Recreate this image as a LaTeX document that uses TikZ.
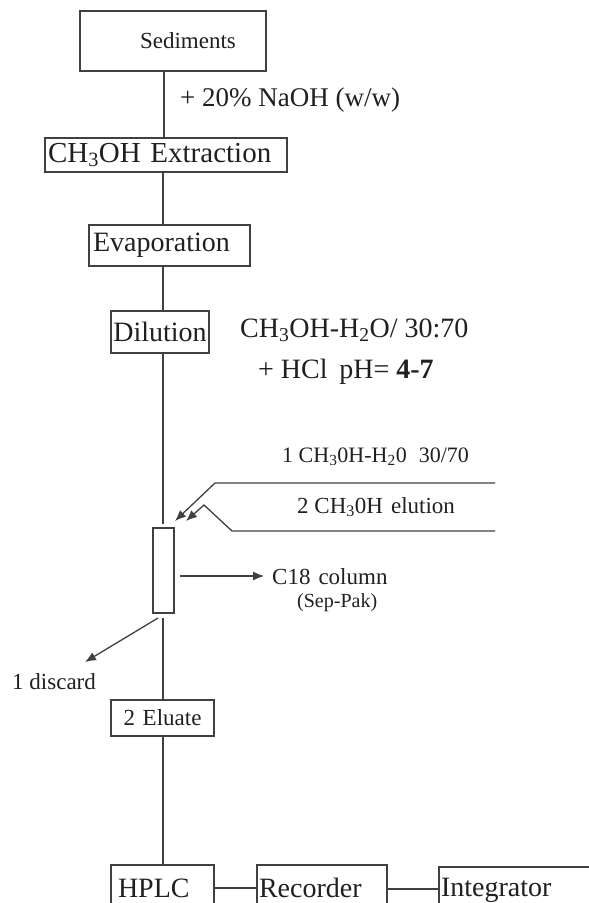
\documentclass[tikz,border=0pt]{standalone}
\usepackage{fontspec}
\setmainfont{Liberation Serif}
\usetikzlibrary{arrows.meta}
\newcommand{\fs}[1]{\fontsize{#1}{#1}\selectfont}
\definecolor{lc}{HTML}{404040}
\definecolor{tc}{HTML}{202020}
\begin{document}
\begin{tikzpicture}[x=1pt,y=-1pt,
  box/.style={draw=lc, line width=1.3pt, inner ysep=0pt, align=left, text=tc},
  txt/.style={inner sep=0pt, anchor=west, text=tc},
  ln/.style={draw=lc, line width=1.3pt},
  arr/.style={ln, -{Latex[length=11pt,width=9pt]}}]
\useasboundingbox (0,0) rectangle (589,903);
\clip (0,0) rectangle (589,903);
\fill[white] (0,0) rectangle (589,903);
\coordinate (ax) at (163,0);
\coordinate (ax2) at (164,0);
% boxes
\node[box, align=center, text width=180pt, inner xsep=3pt, minimum height=60pt, font=\fs{23}] (sed) at (173,41) {\hspace*{30pt}Sediments};
\node[box, text width=236pt, inner xsep=3pt, minimum height=34pt, font=\fs{29}] (ext) at (166,155) {CH\textsubscript{3}OH Extraction};
\node[box, text width=153pt, inner xsep=4pt, minimum height=41pt, font=\fs{28}] (evap) at (169.5,245.5) {Evaporation};
\node[box, align=center, text width=94pt, inner xsep=2pt, minimum height=42pt, font=\fs{28}] (dil) at (160,332) {Dilution};
\node[draw=lc, line width=1.3pt, minimum width=21pt, minimum height=85pt, inner sep=0pt] (col) at (163.5,570.5) {};
\node[box, align=center, text width=97pt, inner xsep=3pt, minimum height=36pt, font=\fs{23}] (elu) at (162.5,718) {2 Eluate};
\node[box, text width=89pt, inner xsep=7pt, minimum height=46pt, font=\fs{28}] (hplc) at (162.5,888) {HPLC};
\node[box, text width=126pt, inner xsep=2pt, minimum height=46pt, font=\fs{28}] (rec) at (322,888) {Recorder};
\node[box, text width=166pt, inner xsep=2pt, minimum height=46pt, font=\fs{28}] (integ) at (524,890) {Integrator};
% texts
\node[txt, font=\fs{27}] (naoh) at (180,100) {+ 20\% NaOH (w/w)};
\node[txt, font=\fs{28}] (meth) at (240,330) {CH\textsubscript{3}OH-H\textsubscript{2}O/ 30:70};
\node[txt, font=\fs{28}] (hcl) at (258,372) {+ HCl\, pH= \textbf{4-7}};
\node[txt, font=\fs{22}] (e1) at (282,457) {1 CH\textsubscript{3}0H-H\textsubscript{2}0\hspace{12pt}30/70};
\node[txt, font=\fs{23}] (e2) at (297,507) {2 CH\textsubscript{3}0H\hspace{8pt}elution};
\node[txt, font=\fs{23}] (c18) at (272,577) {C18\hspace{8pt}column};
\node[txt, font=\fs{20}] (sep) at (297,603) {(Sep-Pak)};
\node[txt, font=\fs{23}] (disc) at (12,682) {1 discard};
% coordinates
\coordinate (s1r) at (495,483);
\coordinate (s1k) at (215,483);
\coordinate (s1t) at (175,521);
\coordinate (s2r) at (495,531);
\coordinate (s2k) at (232,531);
\coordinate (s2m) at (204,505);
\coordinate (s2t) at (186,521);
\coordinate (ca) at (180,576);
\coordinate (d1) at (158,618);
\coordinate (d2) at (85,662);
% connectors
\draw[ln] (sed.south -| ax2) -- (ext.north -| ax2);
\draw[ln] (ext.south -| ax) -- (evap.north -| ax);
\draw[ln] (evap.south -| ax) -- (dil.north -| ax);
\draw[ln, shorten >=3pt] (dil.south -| ax) -- (col.north -| ax);
\draw[ln, shorten <=4pt] (col.south -| ax) -- (elu.north -| ax);
\draw[ln] (elu.south -| ax) -- (hplc.north -| ax);
\draw[ln] (hplc.east) -- (rec.west);
\draw[ln] (rec.east |- 0,889) -- (integ.west |- 0,889);
\draw[arr] (s1r) -- (s1k) -- (s1t);
\draw[arr] (s2r) -- (s2k) -- (s2m) -- (s2t);
\draw[arr, shorten >=8pt] (ca) -- (c18.west |- ca);
\draw[arr] (d1) -- (d2);
\end{tikzpicture}
\end{document}
